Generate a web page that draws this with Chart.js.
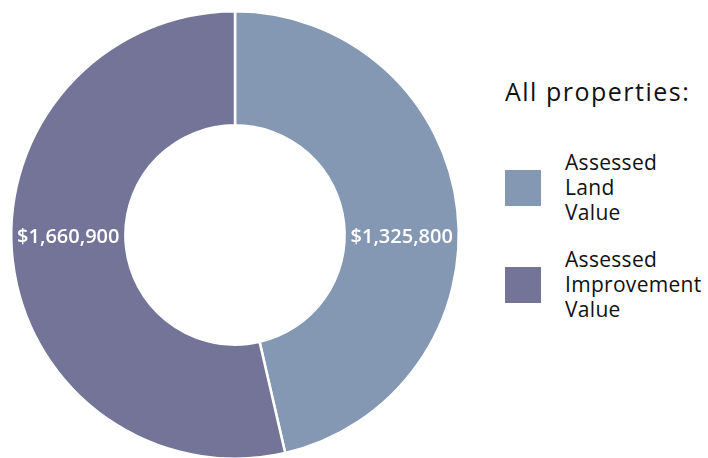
<!DOCTYPE html>
<html>
<head>
<meta charset="utf-8">
<script src="https://cdn.jsdelivr.net/npm/chart.js@4"></script>
<style>
  html, body { margin: 0; padding: 0; background: #fff; overflow: hidden; width: 708px; height: 458px; }
  #wrap { position: absolute; left: 0; top: 0; width: 470px; height: 470px; }
  #legend { position: absolute; left: 505px; top: 76px; font-family: "Open Sans", sans-serif; color: #111; }
  #legend .title { font-size: 25px; line-height: 30px; height: 30px; margin-bottom: 44px; white-space: nowrap; letter-spacing: 1.5px; }
  #legend .item { display: flex; align-items: center; margin-bottom: 22px; }
  #legend .box { width: 36px; height: 36px; margin-right: 24px; flex: none; }
  #legend .txt { font-size: 21px; line-height: 25px; white-space: nowrap; letter-spacing: 0.3px; }
</style>
</head>
<body>
<div id="wrap"><canvas id="myChart"></canvas></div>
<div id="legend"></div>
<script>
  var labels = [["Assessed", "Land", "Value"], ["Assessed", "Improvement", "Value"]];
  // amounts printed on the ring
  var amounts = [1325800, 1660900];
  // slice sizes as drawn in the picture (percent of the ring)
  var shares = [46.4, 53.6];
  var colors = ["#8498b3", "#737497"];
  var legendTitle = "All properties:";

  function money(v) {
    return "$" + v.toLocaleString("en-US");
  }

  // amount labels sit on the horizontal line through the ring middle
  var sideLabels = {
    id: "sideLabels",
    afterDatasetsDraw: function(chart) {
      var ctx = chart.ctx;
      var meta = chart.getDatasetMeta(0);
      ctx.save();
      ctx.fillStyle = "#fff";
      ctx.font = "600 20px 'Open Sans', sans-serif";
      ctx.textAlign = "center";
      ctx.textBaseline = "middle";
      meta.data.forEach(function(arc, i) {
        var p = arc.getProps(["x", "y", "innerRadius", "outerRadius"], true);
        var r = (p.innerRadius + p.outerRadius) / 2;
        var x = i === 0 ? p.x + r : p.x - r;
        ctx.fillText(money(amounts[i]), x, p.y + 2);
      });
      ctx.restore();
    }
  };

  var ctx = document.getElementById("myChart");

  var chart = new Chart(ctx, {
    type: "doughnut",
    data: {
      labels: labels,
      datasets: [{
        data: shares,
        backgroundColor: colors,
        borderColor: "#fff",
        borderWidth: 2.5
      }]
    },
    options: {
      responsive: true,
      maintainAspectRatio: false,
      animation: false,
      cutout: "49%",
      layout: { padding: 10 },
      plugins: {
        legend: { display: false },
        tooltip: { enabled: false }
      }
    },
    plugins: [sideLabels]
  });

  // html legend built from the same arrays
  var lg = document.getElementById("legend");
  var html = '<div class="title">' + legendTitle + '</div>';
  labels.forEach(function(l, i) {
    html += '<div class="item"><div class="box" style="background:' + colors[i] + '"></div>' +
      '<div class="txt">' + l.join("<br>") + '</div></div>';
  });
  lg.innerHTML = html;
</script>
</body>
</html>
